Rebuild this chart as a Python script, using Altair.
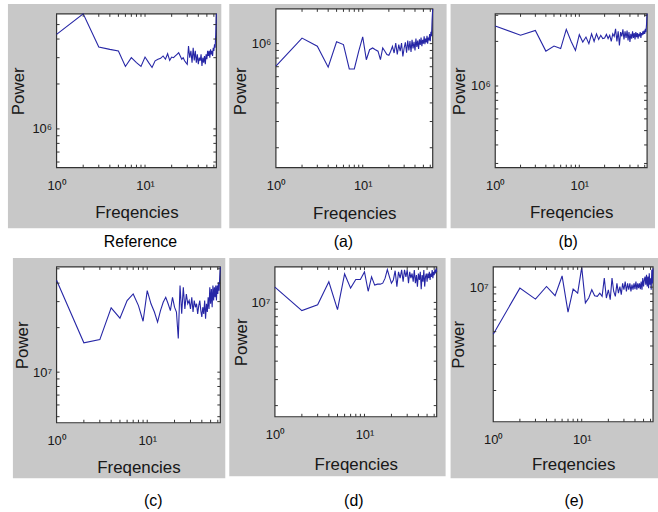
import altair as alt
import pandas as pd

# ---------------- data ----------------
freqs = list(range(1, 65))

power_ref = [4.30e6, 5.9e6, 3.54e6, 3.41e6, 3.33e6, 2.62e6, 3.00e6, 2.78e6, 2.62e6, 3.03e6,
             2.78e6, 2.58e6, 2.86e6, 2.93e6, 2.97e6, 3.08e6, 2.93e6, 3.19e6, 2.88e6, 3.03e6,
             3.00e6, 3.08e6, 3.16e6, 3.24e6, 3.08e6, 2.93e6, 3.00e6, 2.86e6, 2.78e6, 2.71e6,
             3.59e6, 3.00e6, 3.33e6, 2.78e6, 3.50e6, 2.88e6, 3.33e6, 2.78e6, 3.16e6, 2.71e6,
             3.00e6, 2.86e6, 3.16e6, 2.64e6, 3.00e6, 2.78e6, 3.08e6, 2.71e6, 3.16e6, 2.93e6,
             3.33e6, 3.08e6, 3.33e6, 3.00e6, 3.41e6, 3.16e6, 3.33e6, 3.08e6, 3.50e6, 3.33e6,
             3.69e6, 3.50e6, 4.30e6, 5.9e6]

power_a = [7.05e5, 1.09e6, 9.6e5, 6.95e5, 1.03e6, 9.85e5, 6.76e5, 6.76e5, 8.9e5, 1.11e6,
           7.8e5, 9.1e5, 9.35e5, 9.1e5, 8.9e5, 7.8e5, 9.35e5, 8.9e5, 8.45e5, 8.35e5,
           8.9e5, 9.6e5, 8.65e5, 1.01e6, 8.45e5, 9.85e5, 8.9e5, 1.01e6, 8.2e5, 9.35e5,
           1.02e6, 8.7e5, 1.05e6, 9.0e5, 1.04e6, 8.8e5, 1.06e6, 9.3e5, 1.03e6, 9.0e5,
           1.08e6, 9.5e5, 1.05e6, 9.2e5, 1.07e6, 9.8e5, 1.10e6, 9.6e5, 1.06e6, 1.0e6,
           1.12e6, 9.9e5, 1.08e6, 1.02e6, 1.13e6, 1.0e6, 1.10e6, 1.05e6, 1.16e6, 1.04e6,
           1.20e6, 1.12e6, 1.45e6, 1.71e6]

power_b = [2.54e6, 2.20e6, 2.37e6, 1.72e6, 1.86e6, 1.79e6, 2.41e6, 2.0e6, 1.74e6, 2.22e6,
           1.98e6, 2.14e6, 1.93e6, 2.25e6, 2.0e6, 2.25e6, 2.06e6, 2.20e6, 2.09e6, 2.11e6,
           2.23e6, 2.09e6, 2.20e6, 2.0e6, 2.25e6, 2.16e6, 2.43e6, 2.0e6, 2.34e6, 1.88e6,
           2.31e6, 2.16e6, 2.41e6, 2.06e6, 2.34e6, 2.11e6, 2.37e6, 2.03e6, 2.31e6, 1.98e6,
           2.25e6, 2.09e6, 2.34e6, 2.11e6, 2.28e6, 2.06e6, 2.31e6, 2.14e6, 2.28e6, 2.09e6,
           2.25e6, 2.16e6, 2.31e6, 2.11e6, 2.28e6, 2.20e6, 2.34e6, 2.23e6, 2.37e6, 2.25e6,
           2.43e6, 2.31e6, 2.6e6, 3.07e6]

power_c = [4.19e7, 1.58e7, 1.66e7, 2.72e7, 2.32e7, 3.05e7, 3.38e7, 2.82e7, 2.21e7, 3.56e7,
           2.90e7, 2.55e7, 2.18e7, 2.61e7, 2.97e7, 3.21e7, 2.90e7, 2.61e7, 3.21e7, 2.75e7,
           2.55e7, 1.69e7, 3.85e7, 2.48e7, 3.75e7, 2.68e7, 3.38e7, 2.90e7, 3.05e7, 2.68e7,
           3.21e7, 2.55e7, 3.05e7, 2.75e7, 2.90e7, 2.48e7, 2.82e7, 3.05e7, 2.61e7, 2.36e7,
           2.75e7, 2.48e7, 3.05e7, 2.30e7, 2.90e7, 2.55e7, 3.21e7, 2.68e7, 3.75e7, 2.90e7,
           3.65e7, 2.75e7, 3.85e7, 3.05e7, 3.75e7, 3.21e7, 3.85e7, 3.05e7, 3.85e7, 3.38e7,
           4.05e7, 3.56e7, 4.37e7, 5.15e7]

power_d = [1.27e7, 8.8e6, 9.65e6, 1.38e7, 8.93e6, 1.56e7, 1.25e7, 1.43e7, 1.43e7, 1.61e7,
           1.19e7, 1.49e7, 1.31e7, 1.33e7, 1.33e7, 1.35e7, 1.46e7, 1.67e7, 1.49e7, 1.35e7,
           1.42e7, 1.64e7, 1.28e7, 1.61e7, 1.46e7, 1.66e7, 1.38e7, 1.66e7, 1.49e7, 1.66e7,
           1.35e7, 1.61e7, 1.46e7, 1.57e7, 1.38e7, 1.66e7, 1.35e7, 1.53e7, 1.28e7, 1.57e7,
           1.42e7, 1.61e7, 1.23e7, 1.53e7, 1.38e7, 1.66e7, 1.28e7, 1.49e7, 1.57e7, 1.38e7,
           1.57e7, 1.46e7, 1.61e7, 1.42e7, 1.57e7, 1.49e7, 1.66e7, 1.46e7, 1.61e7, 1.53e7,
           1.66e7, 1.57e7, 1.70e7, 1.61e7]

power_e = [4.80e6, 9.85e6, 8.3e6, 1.01e7, 8.75e6, 1.19e7, 6.77e6, 9.7e6, 9.1e6, 1.36e7,
           7.82e6, 8.44e6, 9.6e6, 8.75e6, 8.66e6, 9.1e6, 8.66e6, 1.15e7, 8.44e6, 9.6e6,
           8.23e6, 1.15e7, 9.35e6, 8.66e6, 1.06e7, 9.1e6, 1.01e7, 8.9e6, 1.06e7, 9.6e6,
           1.09e7, 9.35e6, 1.06e7, 9.6e6, 1.06e7, 9.35e6, 1.04e7, 9.6e6, 1.06e7, 9.7e6,
           1.09e7, 9.6e6, 1.06e7, 9.85e6, 1.06e7, 9.7e6, 1.09e7, 9.6e6, 1.15e7, 1.01e7,
           1.12e7, 1.18e7, 1.04e7, 1.21e7, 1.01e7, 1.18e7, 9.85e6, 1.24e7, 1.04e7, 1.15e7,
           9.6e6, 1.31e7, 1.06e7, 1.34e7]

# axis ranges and tick values
x_range = [1, 64]
x_tick_labels = ["10⁰", "10¹"]
x_minor = [2, 3, 4, 5, 6, 7, 8, 9, 10, 20, 30, 40, 50, 60]

# y-scale domains (bottom .. top of the view); panel (a)'s box reaches 5 px
# higher than its view, up to 1.71e6
ydom_ref, ydom_a, ydom_b = [5.5e5, 5.9e6], [1.47e5, 1.585e6], [2.81e5, 3.07e6]
ydom_c, ydom_d, ydom_e = [4.55e6, 5.15e7], [1.68e6, 1.74e7], [1.23e6, 1.37e7]

ytick_ref = [6e5, 7e5, 8e5, 9e5, 1e6, 2e6, 3e6, 4e6, 5e6]
ytick_a = [2e5, 3e5, 4e5, 5e5, 6e5, 7e5, 8e5, 9e5, 1e6]
ytick_b = [3e5, 4e5, 5e5, 6e5, 7e5, 8e5, 9e5, 1e6, 2e6, 3e6]
ytick_c = [5e6, 6e6, 7e6, 8e6, 9e6, 1e7, 2e7, 3e7, 4e7, 5e7]
ytick_d = [2e6, 3e6, 4e6, 5e6, 6e6, 7e6, 8e6, 9e6, 1e7]
ytick_e = [2e6, 3e6, 4e6, 5e6, 6e6, 7e6, 8e6, 9e6, 1e7]

captions = ["Reference", "(a)", "(b)", "(c)", "(d)", "(e)"]

# ---------------- style ----------------
FONT = "Liberation Sans"
LINE = "#2626a6"
SHADE = 0.215          # black veil over white -> figure gray (~#c8c8c8)
BOX = "#333333"
TXT = "#222222"


def panel(values, ydom, major, major_label, yticks, w, h, gx1, gx2, gy1, gy2,
          caption, cap_dx, cap_off, ytitle_x, xtitle_y, top_ext=0):
    df = pd.DataFrame({"f": freqs, "p": values})
    one = pd.DataFrame({"k": [0]})
    xs = alt.Scale(type="log", domain=x_range, nice=False)
    ys = alt.Scale(type="log", domain=ydom, nice=False)

    gray = alt.Chart(one).mark_rect(fill="black", fillOpacity=SHADE).encode(
        x=alt.value(gx1), x2=alt.value(gx2), y=alt.value(gy1), y2=alt.value(gy2))
    white = alt.Chart(one).mark_rect(fill="white", stroke=BOX, strokeWidth=1.2).encode(
        x=alt.value(0), x2=alt.value(w), y=alt.value(-top_ext), y2=alt.value(h))

    line = alt.Chart(df).mark_line(color=LINE, strokeWidth=1.1, clip=False).encode(
        x=alt.X("f:Q", scale=xs, axis=alt.Axis(
            values=[1, 10],
            labelExpr="datum.value < 5 ? '%s' : '%s'" % (x_tick_labels[0], x_tick_labels[1]),
            ticks=False, domain=False, grid=False, labelFlush=False,
            labelOverlap=False, labelFont=FONT, labelFontSize=13, labelColor=TXT,
            labelBaseline="middle", labelPadding=18,
            title="Freqencies", titleFont=FONT, titleFontSize=17, titleFontWeight="normal",
            titleColor=TXT, titleY=xtitle_y, titleBaseline="middle")),
        y=alt.Y("p:Q", scale=ys, axis=alt.Axis(
            values=[major], labelExpr="'%s'" % major_label,
            ticks=False, domain=False, grid=False, labelFlush=False,
            labelOverlap=False, labelFont=FONT, labelFontSize=13, labelColor=TXT,
            labelPadding=5,
            title="Power", titleFont=FONT, titleFontSize=17, titleFontWeight="normal",
            titleColor=TXT, titleX=ytitle_x, titleY=h / 2, titleAngle=270,
            titleAlign="center", titleBaseline="middle")),
    )

    xt = pd.DataFrame({"t": x_minor})
    yt = pd.DataFrame({"t": yticks})
    tb = alt.Chart(xt).mark_rule(color=BOX, strokeWidth=1).encode(
        x=alt.X("t:Q", scale=xs), y=alt.value(h), y2=alt.value(h - 3))
    tt = alt.Chart(xt).mark_rule(color=BOX, strokeWidth=1).encode(
        x=alt.X("t:Q", scale=xs), y=alt.value(-top_ext), y2=alt.value(3 - top_ext))
    tl = alt.Chart(yt).mark_rule(color=BOX, strokeWidth=1).encode(
        y=alt.Y("t:Q", scale=ys), x=alt.value(0), x2=alt.value(3))
    tr = alt.Chart(yt).mark_rule(color=BOX, strokeWidth=1).encode(
        y=alt.Y("t:Q", scale=ys), x=alt.value(w), x2=alt.value(w - 3))

    return alt.layer(gray, white, line, tb, tt, tl, tr).properties(
        width=w, height=h,
        title=alt.TitleParams(text=caption, orient="bottom", anchor="middle", frame="group",
                              font=FONT, fontSize=16, fontWeight="normal", color="black",
                              baseline="top", offset=cap_off, dx=cap_dx))


p_ref = panel(power_ref, ydom_ref, 1e6, "10⁶", ytick_ref, 161, 155, -49, 166, -10, 216,
              captions[0], 4, 6, -38, 45)
p_a = panel(power_a, ydom_a, 1e6, "10⁶", ytick_a, 158, 155, -47, 172, -10, 216,
            captions[1], -11, 6, -36, 46, top_ext=5)
p_b = panel(power_b, ydom_b, 1e6, "10⁶", ytick_b, 153, 155, -45, 161, -10, 216,
            captions[2], -3, 6, -36, 45)
p_c = panel(power_c, ydom_c, 1e7, "10⁷", ytick_c, 165, 157, -44, 170, -9, 213,
            captions[3], 15, 15, -34, 45)
p_d = panel(power_d, ydom_d, 1e7, "10⁷", ytick_d, 163, 151, -46, 172, -9, 211,
            captions[4], -2, 17, -34, 48)
p_e = panel(power_e, ydom_e, 1e7, "10⁷", ytick_e, 161, 156, -43, 166, -9, 213,
            captions[5], 1, 15, -35, 43)

chart = alt.concat(p_ref, p_a, p_b, p_c, p_d, p_e, columns=3,
                   spacing={"row": 8, "column": 4}, align="none").properties(
    padding={"left": 8, "top": 2, "right": 0, "bottom": 0},
    background="white",
).configure_view(stroke=None)

chart.save("out.html", embed_options={"renderer": "svg", "actions": False})
